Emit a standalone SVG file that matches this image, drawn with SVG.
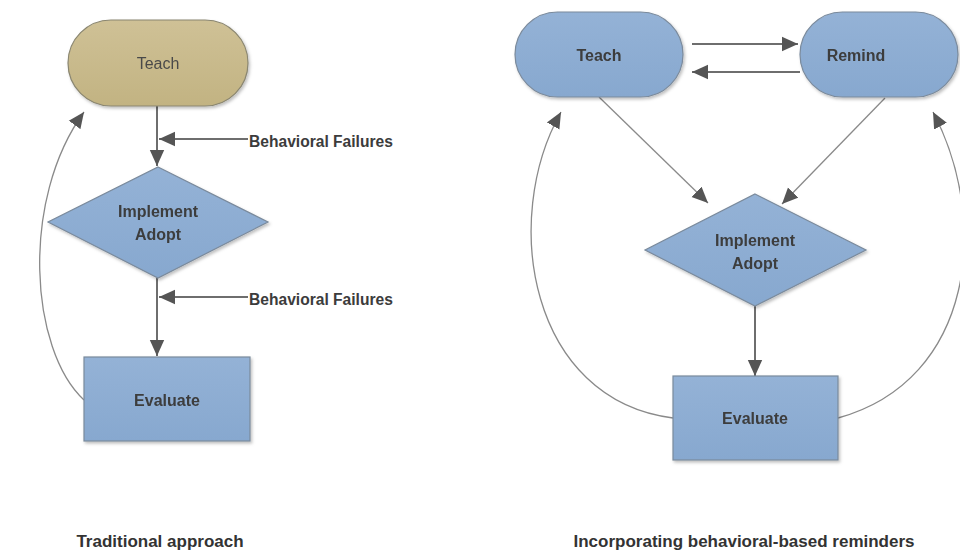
<svg xmlns="http://www.w3.org/2000/svg" width="960" height="550" viewBox="0 0 960 550">
<style>
.lbl{font-family:"Liberation Sans",Arial,sans-serif;font-weight:bold;font-size:16px;fill:#3c3c3c;text-anchor:middle;dominant-baseline:central}
.side{font-family:"Liberation Sans",Arial,sans-serif;font-weight:bold;font-size:15.6px;fill:#3c3c3c;dominant-baseline:central}
.cap{font-family:"Liberation Sans",Arial,sans-serif;font-weight:bold;font-size:17px;fill:#333;text-anchor:middle;dominant-baseline:central}
.blue{fill:url(#gb);stroke:#7a8a9c;stroke-width:1.2}
.tan{fill:url(#gt);stroke:#8a8670;stroke-width:1.2}
.thick{stroke:#6e6e6e;stroke-width:2;fill:none}
.thin{stroke:#8a8a8a;stroke-width:1.3;fill:none}
</style>
<defs>
<linearGradient id="gb" x1="0" y1="0" x2="0" y2="1"><stop offset="0" stop-color="#94b2d6"/><stop offset="1" stop-color="#87a8cf"/></linearGradient>
<linearGradient id="gt" x1="0" y1="0" x2="0" y2="1"><stop offset="0" stop-color="#cfc196"/><stop offset="1" stop-color="#c2b382"/></linearGradient>
<filter id="sh" x="-10%" y="-10%" width="125%" height="130%"><feDropShadow dx="1.5" dy="2" stdDeviation="1.5" flood-color="#000" flood-opacity="0.25"/></filter>
<marker id="ahL" viewBox="0 0 10 10" refX="10" refY="5" markerWidth="16" markerHeight="16" markerUnits="userSpaceOnUse" orient="auto"><path d="M0,0.5 L10,5 L0,9.5 z" fill="#555"/></marker>
</defs>
<rect width="960" height="550" fill="#fff"/>

<g id="connectors">
<line class="thick" x1="157" y1="106" x2="157" y2="166" marker-end="url(#ahL)"/>
<line class="thick" x1="248" y1="139" x2="159" y2="139" marker-end="url(#ahL)"/>
<line class="thick" x1="157" y1="278" x2="157" y2="356" marker-end="url(#ahL)"/>
<line class="thick" x1="248" y1="297" x2="159" y2="297" marker-end="url(#ahL)"/>
<path class="thin" d="M84,400 C30,350 20,200 84,112" marker-end="url(#ahL)"/>
<line class="thick" x1="692" y1="44" x2="798" y2="44" marker-end="url(#ahL)"/>
<line class="thick" x1="800" y1="72" x2="692" y2="72" marker-end="url(#ahL)"/>
<line class="thin" x1="599" y1="97" x2="708" y2="203" marker-end="url(#ahL)"/>
<line class="thin" x1="885" y1="98" x2="782" y2="204" marker-end="url(#ahL)"/>
<line class="thick" x1="755" y1="306" x2="755" y2="376" marker-end="url(#ahL)"/>
<path class="thin" d="M673,418 C530,400 500,220 561,112" marker-end="url(#ahL)"/>
<path class="thin" d="M838,418 C975,380 990,220 933,112" marker-end="url(#ahL)"/>
</g>

<g id="teach-left" filter="url(#sh)">
<rect class="tan" x="68" y="20" width="180" height="86" rx="43"/>
<text class="lbl" x="158" y="63" style="font-weight:normal;fill:#4a4a4a">Teach</text>
</g>
<g id="implement-left" filter="url(#sh)">
<polygon class="blue" points="158,167 268,222 158,278 48,222"/>
<text class="lbl" x="158" y="211">Implement</text>
<text class="lbl" x="158" y="234">Adopt</text>
</g>
<g id="evaluate-left" filter="url(#sh)">
<rect class="blue" x="84" y="357" width="166" height="84"/>
<text class="lbl" x="167" y="400">Evaluate</text>
</g>
<g id="bf1"><text class="side" x="249" y="141">Behavioral Failures</text></g>
<g id="bf2"><text class="side" x="249" y="299">Behavioral Failures</text></g>

<g id="teach-right" filter="url(#sh)">
<rect class="blue" x="515" y="12" width="168" height="85" rx="42.5"/>
<text class="lbl" x="599" y="55">Teach</text>
</g>
<g id="remind" filter="url(#sh)">
<rect class="blue" x="800" y="12" width="158" height="85" rx="42.5"/>
<text class="lbl" x="856" y="55">Remind</text>
</g>
<g id="implement-right" filter="url(#sh)">
<polygon class="blue" points="755,194 866,250 755,306 645,250"/>
<text class="lbl" x="755" y="240">Implement</text>
<text class="lbl" x="755" y="263">Adopt</text>
</g>
<g id="evaluate-right" filter="url(#sh)">
<rect class="blue" x="673" y="376" width="165" height="84"/>
<text class="lbl" x="755" y="418">Evaluate</text>
</g>

<text class="cap" x="160" y="541">Traditional approach</text>
<text class="cap" x="744" y="541">Incorporating behavioral-based reminders</text>
</svg>
